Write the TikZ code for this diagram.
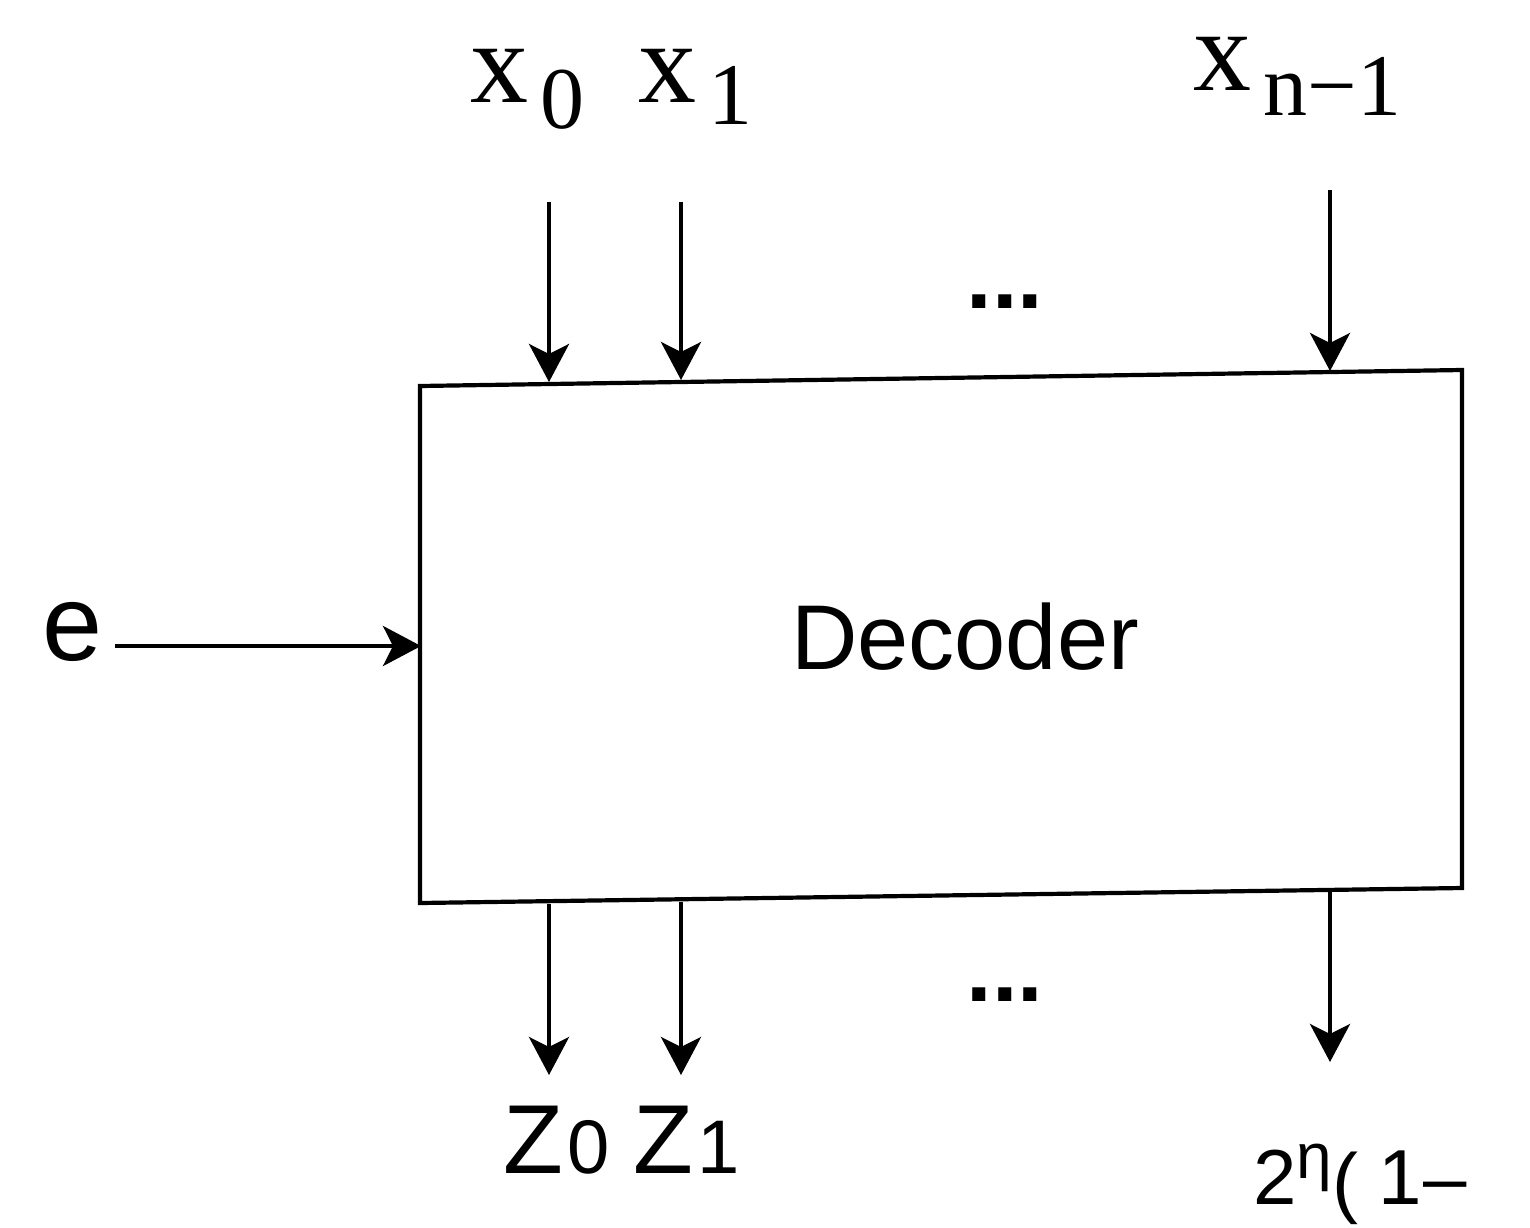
\documentclass[tikz,border=0pt]{standalone}
\usepackage{fontspec}
\setmainfont{Liberation Serif}
\setsansfont{Liberation Sans}
\usetikzlibrary{arrows.meta}
\begin{document}
\begin{tikzpicture}[x=0.5pt,y=-0.5pt,
  wire/.style={line width=2.1pt,-{Stealth[length=19pt,width=20pt,inset=5pt]}},
  blk/.style={draw,line width=2.1pt},
  lbl/.style={inner sep=0pt,anchor=base west},
  serif/.style={font=\fontsize{58}{58}\selectfont},
  sans/.style={font=\sffamily\fontsize{48}{48}\selectfont},
  dots/.style={font=\sffamily\bfseries\fontsize{46}{46}\selectfont}]
\useasboundingbox (0,0) rectangle (1530,1227);
% box
\draw[blk] (420,386) -- (1462,370) -- (1462,888) -- (420,903) -- cycle;
\node[font=\sffamily\fontsize{46}{46}\selectfont] (dec) at (965,637) {Decoder};
% input labels
\node[lbl,serif] (lx0) at (470,102) {x\hspace{6pt}\raisebox{-13pt}{\fontsize{44}{44}\selectfont 0}};
\node[lbl,serif] (lx1) at (638,102) {x\hspace{6pt}\raisebox{-11pt}{\fontsize{44}{44}\selectfont 1}};
\node[lbl,serif] (lxn) at (1193,90) {x\hspace{6pt}\raisebox{-12.5pt}{\fontsize{44}{44}\selectfont n−1}};
% input wires
\coordinate (i0s) at (549,202); \coordinate (i0e) at (549,382);
\coordinate (i1s) at (681,202); \coordinate (i1e) at (681,380);
\coordinate (ins) at (1330,190); \coordinate (ine) at (1330,371);
\draw[wire] (i0s) -- (i0e);
\draw[wire] (i1s) -- (i1e);
\draw[wire] (ins) -- (ine);
\node[dots] (dtop) at (1005,302) {...};
% enable
\node[lbl,font=\sffamily\fontsize{54}{54}\selectfont] (le) at (42,660) {e};
\coordinate (es) at (115,646); \coordinate (ee) at (421,646);
\draw[wire] (es) -- (ee);
% output wires
\coordinate (o0s) at (549,904); \coordinate (o0e) at (549,1075);
\coordinate (o1s) at (681,902); \coordinate (o1e) at (681,1075);
\coordinate (ons) at (1330,889); \coordinate (one) at (1330,1062);
\draw[wire] (o0s) -- (o0e);
\draw[wire] (o1s) -- (o1e);
\draw[wire] (ons) -- (one);
\node[dots] (dbot) at (1005,995) {...};
% output labels
\node[lbl,font=\sffamily\fontsize{49}{49}\selectfont] (lz0) at (503,1173) {Z\hspace{2pt}{\fontsize{38}{38}\selectfont 0}};
\node[lbl,font=\sffamily\fontsize{49}{49}\selectfont] (lz1) at (633,1173) {Z\hspace{2pt}{\fontsize{38}{38}\selectfont 1}};
\node[lbl,font=\sffamily\fontsize{39}{39}\selectfont] (lzn) at (1253,1204) {2\raisebox{13pt}{\fontsize{32}{32}\selectfont η}\raisebox{-2pt}{(}\hspace{10pt}1\hspace{1pt}–};
\end{tikzpicture}
\end{document}
